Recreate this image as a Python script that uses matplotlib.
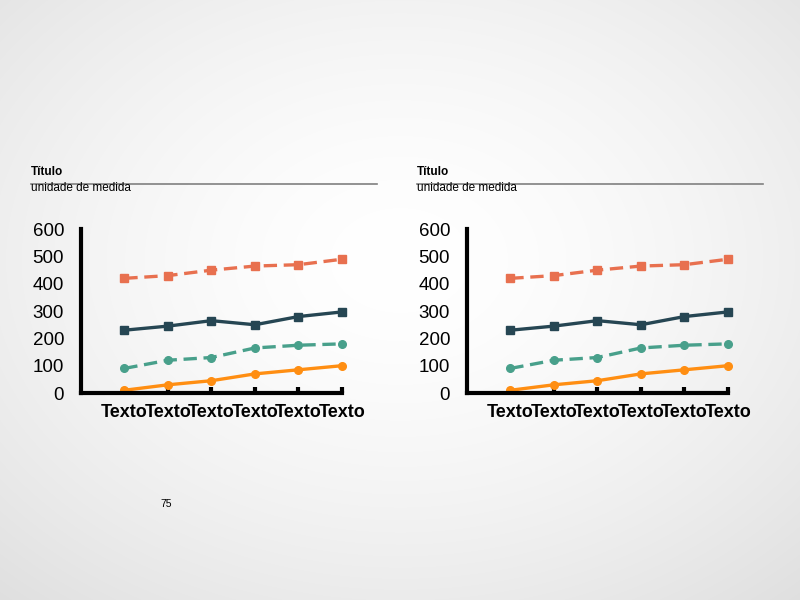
import matplotlib
matplotlib.use("Agg")
import matplotlib.pyplot as plt
import numpy as np

plt.rcParams['font.family'] = ['Liberation Sans', 'DejaVu Sans']

categorias = ["Texto", "Texto", "Texto", "Texto", "Texto", "Texto"]
serie_coral = [420, 430, 450, 465, 470, 490]
serie_azul = [230, 245, 265, 250, 280, 297]
serie_verde = [90, 120, 130, 165, 175, 180]
serie_laranja = [10, 30, 45, 70, 85, 100]
y_ticks = [0, 100, 200, 300, 400, 500, 600]
titulo = "Título"
unidade = "unidade de medida"
pagina = "75"

fig = plt.figure(figsize=(8, 6), dpi=100)

# fundo com gradiente radial
bg = fig.add_axes([0, 0, 1, 1], zorder=-10)
yy, xx = np.mgrid[0:600, 0:800]
r = np.sqrt(((xx - 400) / 560.0) ** 2 + ((yy - 260) / 420.0) ** 2)
val = 1.0 - 0.11 * np.clip(r, 0, 1.3) ** 1.6
bg.imshow(np.dstack([val, val, val]), extent=[0, 1, 0, 1], aspect='auto')
bg.set_axis_off()


def desenha(dx):
    ax = fig.add_axes([0.101 + dx, 0.345, 0.3265, 0.273])
    ax.patch.set_alpha(0)
    x = np.arange(1, len(categorias) + 1)
    ax.plot(x, serie_coral, color="#E8704F", lw=2.4, ls=(0, (4, 2)),
            marker="s", ms=5.5, clip_on=False)
    ax.plot(x, serie_azul, color="#264653", lw=2.4, marker="s", ms=5.5, clip_on=False)
    ax.plot(x, serie_verde, color="#48A08B", lw=2.4, ls=(0, (4, 2)),
            marker="o", ms=5.5, clip_on=False)
    ax.plot(x, serie_laranja, color="#FF8E12", lw=2.4, marker="o", ms=5.5, clip_on=False)
    ax.set_xlim(0, len(categorias))
    ax.set_ylim(0, 600)
    ax.set_xticks(x)
    ax.set_xticklabels(categorias, fontsize=13, fontweight="bold")
    ax.set_yticks(y_ticks)
    ax.set_yticklabels([str(v) for v in y_ticks], fontsize=13.5)
    ax.tick_params(axis="x", direction="in", length=4, width=3, pad=8)
    ax.tick_params(axis="y", length=0, pad=12)
    for s in ["top", "right"]:
        ax.spines[s].set_visible(False)
    for s in ["left", "bottom"]:
        ax.spines[s].set_linewidth(3)
        ax.spines[s].set_color("black")

    fig.text(0.039 + dx, 0.714, titulo, fontsize=8.5, fontweight="bold", va="center")
    fig.add_artist(plt.Line2D([0.039 + dx, 0.471 + dx], [0.693, 0.693],
                              color="#808080", lw=1.2))
    fig.text(0.039 + dx, 0.697, unidade, fontsize=8.5, va="top")


desenha(0)
desenha(0.4825)

fig.text(0.2075, 0.16, pagina, fontsize=7.5, ha="center", va="center")

fig.savefig("out.png", dpi=100)
